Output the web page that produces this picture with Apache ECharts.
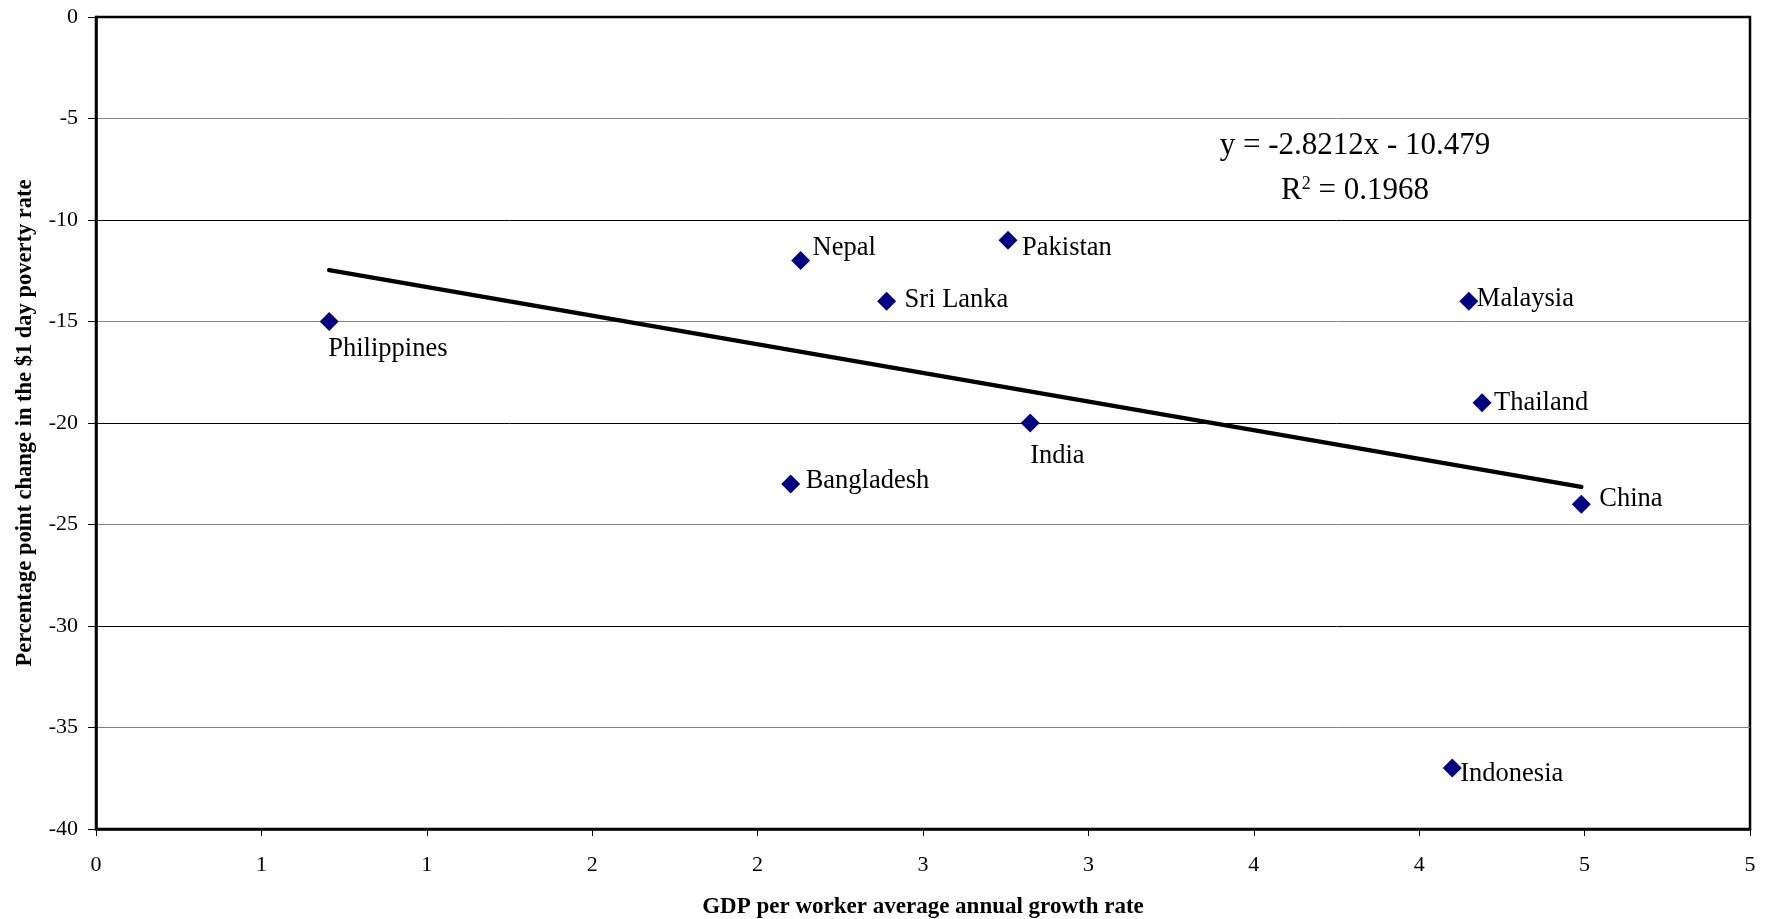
<!DOCTYPE html>
<html>
<head>
<meta charset="utf-8">
<script src="https://cdn.jsdelivr.net/npm/echarts@6/dist/echarts.min.js"></script>
<style>
  html, body { margin: 0; padding: 0; background: #fff; }
  #chart { width: 1771px; height: 919px; }
</style>
</head>
<body>
<div id="chart"></div>
<script>
// ---- data ----
const countries = ['Philippines', 'Nepal', 'Pakistan', 'Sri Lanka', 'India', 'Bangladesh', 'Malaysia', 'Thailand', 'China', 'Indonesia'];
const growthRate = [0.705, 2.13, 2.757, 2.39, 2.824, 2.10, 4.15, 4.19, 4.49, 4.10];
const povertyChange = [-15, -12, -11, -14, -20, -23, -14, -19, -24, -37];
const xTickLabels = ['0', '1', '1', '2', '2', '3', '3', '4', '4', '5', '5'];
const yTickLabels = ['-40', '-35', '-30', '-25', '-20', '-15', '-10', '-5', '0'];
const trendSlope = -2.8212;
const trendIntercept = -10.479;
const rSquared = 0.1968;

// ---- layout / style (not data) ----
const labelOffsets = [[-10.5, 28], [2.5, -13], [4.5, 8], [8.5, -1], [-9.5, 33], [5.5, -3], [-1.5, -2], [2.5, 0], [8.5, -5], [-1.5, 6]];
const SERIF = '"Liberation Serif", "Times New Roman", serif';

const xMinData = Math.min(...growthRate);
const xMaxData = Math.max(...growthRate);
const trendData = [
  [xMinData, trendSlope * xMinData + trendIntercept],
  [xMaxData, trendSlope * xMaxData + trendIntercept]
];

const scatterData = countries.map((c, i) => ({
  name: c,
  value: [growthRate[i], povertyChange[i]],
  label: { offset: labelOffsets[i] }
}));

const chart = echarts.init(document.getElementById('chart'), null, { renderer: 'canvas' });
chart.setOption({
  backgroundColor: '#fff',
  animation: false,
  grid: {
    left: 96, right: 21, top: 17, bottom: 90,
    outerBoundsMode: 'none', containLabel: false,
    show: true, borderColor: '#000', borderWidth: 2.5, backgroundColor: 'transparent'
  },
  xAxis: {
    type: 'value', min: 0, max: 5, interval: 0.5,
    name: 'GDP per worker average annual growth rate',
    nameLocation: 'middle', nameGap: 67,
    nameTextStyle: { fontFamily: SERIF, fontWeight: 'bold', fontSize: 23, color: '#000' },
    axisLine: { show: true, onZero: false, lineStyle: { color: '#000', width: 2.5 } },
    axisTick: { show: true, length: 7, lineStyle: { color: '#000', width: 1 } },
    axisLabel: {
      margin: 25, fontFamily: SERIF, fontSize: 22, color: '#000',
      formatter: v => xTickLabels[Math.round(v / 0.5)]
    },
    splitLine: { show: false }
  },
  yAxis: {
    type: 'value', min: -40, max: 0, interval: 5,
    name: 'Percentage point change in the $1 day poverty rate',
    nameLocation: 'middle', nameGap: 59,
    nameTextStyle: { fontFamily: SERIF, fontWeight: 'bold', fontSize: 22.5, color: '#000' },
    axisLine: { show: true, onZero: false, lineStyle: { color: '#000', width: 2.5 } },
    axisTick: { show: true, length: 8, lineStyle: { color: '#000', width: 1 } },
    axisLabel: {
      margin: 18, fontFamily: SERIF, fontSize: 22, color: '#000',
      formatter: v => yTickLabels[Math.round((v + 40) / 5)]
    },
    splitLine: { show: true, lineStyle: { color: ['#000', '#808080'], width: 1 } }
  },
  series: [
    {
      type: 'line',
      data: trendData,
      symbol: 'none',
      lineStyle: { color: '#000', width: 4.5, cap: 'round' },
      z: 2,
      silent: true
    },
    {
      type: 'scatter',
      data: scatterData,
      symbol: 'diamond',
      symbolSize: 19,
      itemStyle: { color: '#000080', opacity: 1 },
      label: {
        show: true, position: 'right', distance: 0,
        formatter: '{b}', fontFamily: SERIF, fontSize: 26.5, color: '#000'
      },
      z: 3
    }
  ],
  graphic: [
    {
      type: 'text', x: 1355, y: 146,
      style: {
        text: 'y = ' + trendSlope + 'x - ' + Math.abs(trendIntercept),
        fill: '#000', font: '31px ' + SERIF, align: 'center', verticalAlign: 'middle'
      }
    },
    {
      type: 'text', x: 1355, y: 191,
      style: {
        text: 'R{s|2} = ' + rSquared,
        fill: '#000', font: '31px ' + SERIF, align: 'center', verticalAlign: 'middle',
        rich: {
          s: { fontSize: 18, fontFamily: SERIF, verticalAlign: 'top', padding: [0, 0, 14, 0], fill: '#000' }
        }
      }
    }
  ]
});
</script>
</body>
</html>
